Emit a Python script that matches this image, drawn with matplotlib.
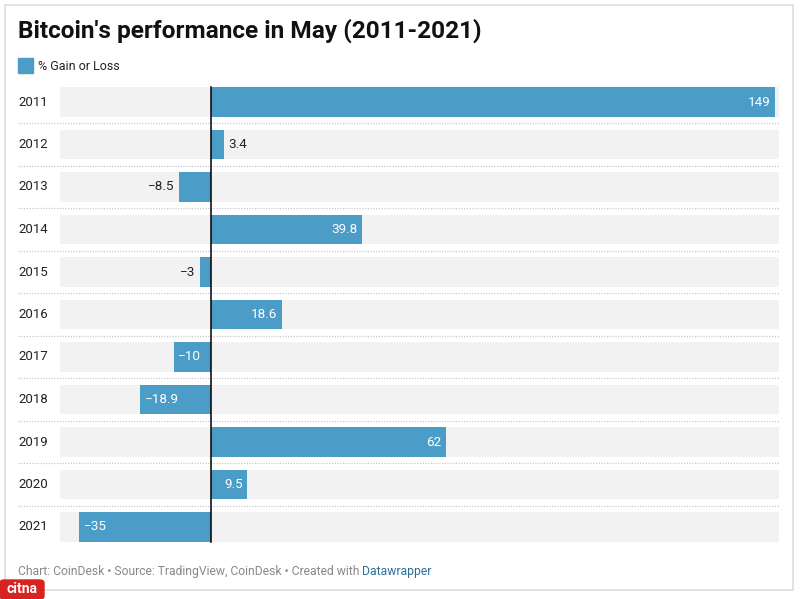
import matplotlib.pyplot as plt
import matplotlib.transforms as mtransforms
from matplotlib.patches import Rectangle, FancyBboxPatch

plt.rcParams['font.family'] = ['Roboto', 'DejaVu Sans']

years = ["2011", "2012", "2013", "2014", "2015", "2016",
         "2017", "2018", "2019", "2020", "2021"]
gains = [149, 3.4, -8.5, 39.8, -3, 18.6, -10, -18.9, 62, 9.5, -35]
labels = ["149", "3.4", "\u22128.5", "39.8", "\u22123", "18.6",
          "\u221210", "\u221218.9", "62", "9.5", "\u221235"]

W, H = 800, 599
BLUE = "#4b9dc8"
BG = "#f2f2f2"


def fx(px):
    return px / W


def fy(py):
    return 1 - py / H


def main():
    fig = plt.figure(figsize=(8, 5.99), dpi=100)
    fig.patch.set_facecolor("white")

    # light frame around the whole graphic
    fig.patches.append(Rectangle((fx(5), fy(590)), fx(788), (590 - 5) / H,
                                 transform=fig.transFigure, fill=False,
                                 edgecolor="#dddddd", linewidth=1.2))

    left, right = 60, 779
    top, bottom = 80.75, 548.25
    ax = fig.add_axes([fx(left), fy(bottom), fx(right - left), (bottom - top) / H])
    ax.set_xlim(-40, 150)
    ax.set_ylim(len(years) - 0.5, -0.5)
    ax.axis("off")

    n = len(years)
    idx = list(range(n))
    bh = 0.69
    ax.barh(idx, [190] * n, left=-40, height=bh, color=BG, zorder=1)
    ax.barh(idx, gains, height=bh, color=BLUE, zorder=2)
    ax.plot([0, 0], [-bh / 2, n - 1 + bh / 2], color="black", lw=1.1, zorder=3)

    # dotted separators
    for i in range(n - 1):
        ax.axhline(i + 0.5, xmin=(18 - left) / (right - left), xmax=1.0,
                   color="#c8c8c8", lw=0.9, ls=(0, (1, 1.2)), clip_on=False, zorder=0)

    trans = mtransforms.blended_transform_factory(fig.transFigure, ax.transData)
    for i, (yr, v, lab) in enumerate(zip(years, gains, labels)):
        ax.text(fx(18), i, yr, transform=trans, ha="left", va="center",
                fontsize=9.5, color="#222222")
        if abs(v) < 9:
            if v >= 0:
                ax.text(v + 1.2, i, lab, ha="left", va="center", fontsize=9.7,
                        color="#222222", zorder=4)
            else:
                ax.text(v - 1.2, i, lab, ha="right", va="center", fontsize=9.7,
                        color="#222222", zorder=4)
        else:
            if v >= 0:
                ax.text(v - 1.2, i, lab, ha="right", va="center", fontsize=9.7,
                        color="white", zorder=4)
            else:
                ax.text(v + 1.2, i, lab, ha="left", va="center", fontsize=9.7,
                        color="white", zorder=4)

    # title and legend
    fig.text(fx(18), fy(31), "Bitcoin's performance in May (2011-2021)",
             ha="left", va="center", fontsize=17.6, fontweight="bold", color="#111111")
    fig.patches.append(Rectangle((fx(18), fy(73)), fx(15), 15 / H,
                                 transform=fig.transFigure, color=BLUE))
    fig.text(fx(38), fy(66), "% Gain or Loss", ha="left", va="center",
             fontsize=9, color="#222222")

    # footer
    foot = fig.text(fx(18), fy(571),
                    "Chart: CoinDesk \u2022 Source: TradingView, CoinDesk \u2022 Created with ",
                    ha="left", va="center", fontsize=8.75, color="#888888")
    fig.canvas.draw()
    bb = foot.get_window_extent()
    fig.text(bb.x1 / fig.bbox.width, fy(571), "Datawrapper", ha="left", va="center",
             fontsize=8.75, color="#2a6f9e")

    # watermark
    fig.patches.append(FancyBboxPatch((fx(0), fy(599)), fx(44), 19 / H,
                                      boxstyle="round,pad=0,rounding_size=0.005",
                                      transform=fig.transFigure, color="#d9231f"))
    fig.text(fx(22), fy(589), "citna", ha="center", va="center", fontsize=10,
             fontweight="bold", color="white")

    fig.savefig("out.png", dpi=100)


if __name__ == "__main__":
    main()
